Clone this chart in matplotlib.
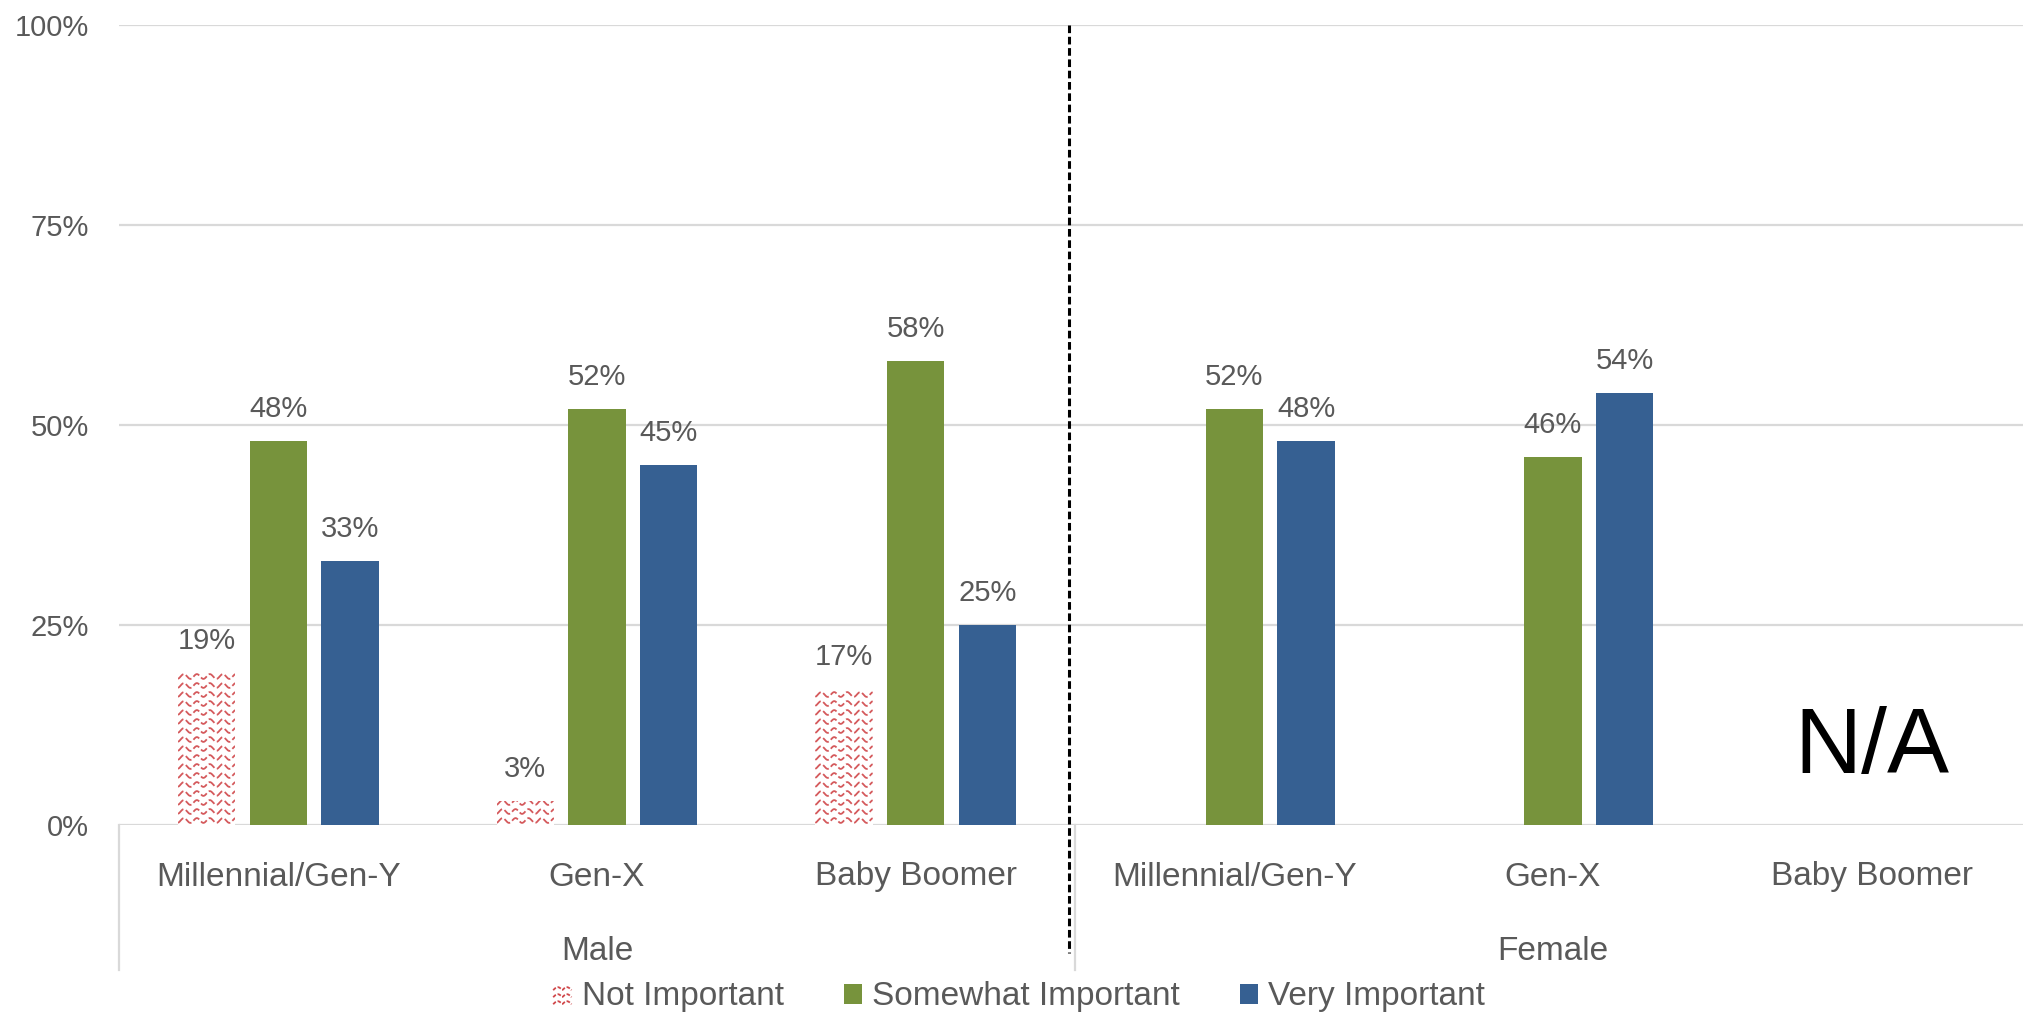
import numpy as np
import matplotlib
matplotlib.use("Agg")
import matplotlib.pyplot as plt
from matplotlib.patches import Patch
from matplotlib.lines import Line2D
from matplotlib.legend_handler import HandlerBase

# --- data ---
categories = ["Millennial/Gen-Y", "Gen-X", "Baby Boomer",
              "Millennial/Gen-Y", "Gen-X", "Baby Boomer"]
groups = ["Male", "Female"]
not_important = [19, 3, 17, None, None, None]
somewhat_important = [48, 52, 58, 52, 46, None]
very_important = [33, 45, 25, 48, 54, None]
series_names = ["Not Important", "Somewhat Important", "Very Important"]
y_ticks = [0, 25, 50, 75, 100]

RED = "#D0474A"
GREEN = "#77933C"
BLUE = "#366092"
TXT = "#595959"
GRID = "#D9D9D9"

plt.rcParams["font.family"] = ["Liberation Sans", "DejaVu Sans"]

W, H = 2023, 1017
fig = plt.figure(figsize=(W / 100, H / 100), dpi=100)
ax_l, ax_r, ax_b, ax_t = 119, 2031, 825, 25
ax = fig.add_axes([ax_l / W, (H - ax_b) / H, (ax_r - ax_l) / W, (ax_b - ax_t) / H])

x = np.arange(len(categories))
bw = 0.18
step = 0.225
ax.set_xlim(-0.5, len(categories) - 0.5)
ax.set_ylim(0, 100)

px_x = (ax_r - ax_l) / len(categories)   # pixels per x unit
px_y = (ax_b - ax_t) / 100.0             # pixels per percent


def label(xc, v):
    ax.annotate(f"{v}%", (xc, v), xytext=(0, 17), textcoords="offset points",
                ha="center", va="baseline", fontsize=21, color=TXT)


# Not Important: wavy hatched bars
for xi, v in zip(x, not_important):
    if v is None:
        continue
    xc = xi - step
    bar = ax.bar(xc, v, bw, color="white", linewidth=0, zorder=2)[0]
    wl = 13 / px_x
    amp = 2.4 / px_y
    sp = 9 / px_y
    xs = np.linspace(xc - bw / 2, xc + bw / 2, 300)
    yy = sp / 2
    while yy < v + sp:
        ln, = ax.plot(xs, yy + amp * np.sin(2 * np.pi * (xs - xc) / wl), color=RED,
                      lw=1.3, ls=(0, (4, 1.5)), alpha=0.9, zorder=3)
        ln.set_clip_path(bar)
        yy += sp
    label(xc, v)

for xi, v in zip(x, somewhat_important):
    if v is None:
        continue
    ax.bar(xi, v, bw, color=GREEN, linewidth=0, zorder=2)
    label(xi, v)

for xi, v in zip(x, very_important):
    if v is None:
        continue
    ax.bar(xi + step, v, bw, color=BLUE, linewidth=0, zorder=2)
    label(xi + step, v)

# axes styling
ax.set_yticks(y_ticks)
ax.set_yticklabels([f"{t}%" for t in y_ticks], fontsize=21, color=TXT)
ax.tick_params(axis="y", length=0, pad=21.5)
ax.set_xticks([])
for s in ax.spines.values():
    s.set_visible(False)
ax.grid(axis="y", color=GRID, lw=1.6, zorder=0)
ax.set_axisbelow(True)

tr = ax.get_xaxis_transform()
for xi, c in zip(x, categories):
    ax.text(xi, -0.065, c, transform=tr, ha="center", va="center",
            fontsize=24, color=TXT)
for gi, g in enumerate(groups):
    ax.text(1 + 3 * gi, -0.1575, g, transform=tr, ha="center", va="center",
            fontsize=24, color=TXT)
for sx in (-0.5, 2.5):
    ax.plot([sx, sx], [0, -0.181], transform=tr, color=GRID, lw=1.6, clip_on=False)

# dashed divider between groups
ax.plot([2.48, 2.48], [1.0, -0.16], transform=tr, color="black", lw=2.2,
        ls=(0, (2.5, 1.2)), clip_on=False, zorder=5)

# N/A marker for missing female boomer data
ax.text(5, 9.5, "N/A", ha="center", va="center", fontsize=67, color="black")


class WaveHandler(HandlerBase):
    def create_artists(self, legend, orig_handle, xd, yd, width, height, fontsize, trans):
        arts = []
        t = np.linspace(0, 1, 30)
        for k in range(3):
            yv = yd + height * (0.15 + 0.35 * k) + height * 0.15 * np.abs(np.sin(np.pi * 2 * t))
            ln = Line2D(xd + width * t, yv, color=RED, lw=1.3, ls=(0, (2, 1)),
                        transform=trans)
            arts.append(ln)
        return arts


handles = [
    Line2D([], []),
    Patch(facecolor=GREEN, linewidth=0),
    Patch(facecolor=BLUE, linewidth=0),
]
fig.legend(handles, series_names, loc="center", bbox_to_anchor=(1019 / W, 20 / H),
           ncol=3, frameon=False, fontsize=24, labelcolor=TXT,
           handlelength=0.55, handleheight=0.55, handletextpad=0.3, columnspacing=1.8,
           handler_map={handles[0]: WaveHandler()})

fig.savefig("out.png", dpi=100)
